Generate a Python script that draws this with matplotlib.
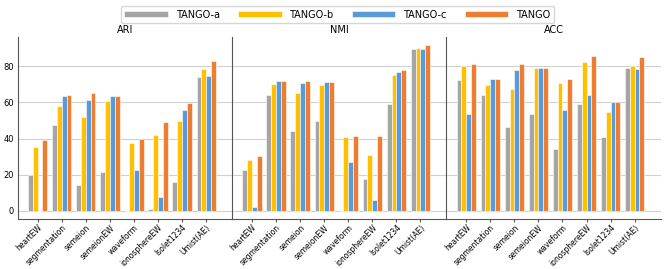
import numpy as np
import matplotlib.pyplot as plt

# Datos
datasets = ['heartEW', 'segmentation', 'semeion', 'semeionEW', 'waveform',
            'ionosphereEW', 'Isolet1234', 'Umist(AE)']
methods = ['TANGO-a', 'TANGO-b', 'TANGO-c', 'TANGO']
colors = ['#A5A5A5', '#FFC000', '#5B9BD5', '#ED7D31']

ari_a = [20.0, 47.6, 14.3, 21.7, 0.0, 1.3, 16.2, 74.1]
ari_b = [35.5, 57.9, 51.9, 60.9, 37.3, 41.9, 49.7, 78.3]
ari_c = [0.0, 63.6, 61.2, 63.3, 22.6, 7.7, 55.9, 74.7]
ari_t = [39.2, 64.0, 65.3, 63.3, 39.7, 48.9, 59.4, 82.8]

nmi_a = [22.6, 63.8, 44.1, 49.8, 0.0, 17.5, 59.0, 89.2]
nmi_b = [28.1, 70.1, 65.1, 69.5, 40.6, 30.9, 74.9, 89.9]
nmi_c = [2.2, 71.5, 70.4, 71.0, 27.0, 5.9, 76.7, 89.4]
nmi_t = [30.5, 71.7, 71.7, 71.0, 41.4, 41.4, 77.8, 91.6]

acc_a = [72.5, 64.0, 46.2, 53.7, 34.4, 59.2, 40.8, 79.1]
acc_b = [79.8, 69.5, 67.3, 78.7, 70.8, 82.4, 54.6, 80.0]
acc_c = [53.5, 72.8, 78.0, 79.1, 55.7, 64.0, 60.3, 78.3]
acc_t = [81.3, 73.0, 81.3, 79.1, 73.0, 85.5, 60.3, 85.1]

panels = [('ARI', [ari_a, ari_b, ari_c, ari_t]),
          ('NMI', [nmi_a, nmi_b, nmi_c, nmi_t]),
          ('ACC', [acc_a, acc_b, acc_c, acc_t])]

plt.rcParams['font.size'] = 6

fig, axes = plt.subplots(1, 3, figsize=(6.64, 2.69), dpi=100, sharey=True)
fig.subplots_adjust(left=0.027, right=0.995, bottom=0.186, top=0.862, wspace=0.0)

x = np.arange(len(datasets))
w = 0.2
for ax, (title, series) in zip(axes, panels):
    for i, vals in enumerate(series):
        ax.bar(x + (i - 1.5) * w, vals, w, color=colors[i], edgecolor='white',
               linewidth=0.4, label=methods[i], zorder=3)
    ax.set_title(title, fontsize=7, pad=3)
    ax.set_xticks(x)
    ax.set_xticklabels(datasets, rotation=45, ha='right', rotation_mode='anchor', fontsize=5.5)
    ax.set_xlim(-0.82, 8.08)
    ax.set_ylim(-4.4, 96)
    ax.set_yticks([0, 20, 40, 60, 80])
    ax.grid(axis='y', color='#d0d0d0', linewidth=0.8, zorder=0)
    ax.spines['top'].set_visible(False)
    ax.spines['right'].set_visible(False)
    ax.spines['left'].set_color('#555555')
    ax.spines['bottom'].set_color('#555555')
    ax.tick_params(axis='x', length=2, pad=1, color='#555555')
    ax.tick_params(axis='y', length=0, pad=3)

axes[0].tick_params(axis='y', labelsize=6)

handles, labels = axes[0].get_legend_handles_labels()
fig.legend(handles, labels, loc='upper center', ncol=4, bbox_to_anchor=(0.508, 0.995),
           fontsize=7, handlelength=4.5, handleheight=0.6, handletextpad=0.8,
           columnspacing=1.85, frameon=True, edgecolor='#cccccc', fancybox=True,
           borderpad=0.35)

plt.savefig('out.png', dpi=100)
